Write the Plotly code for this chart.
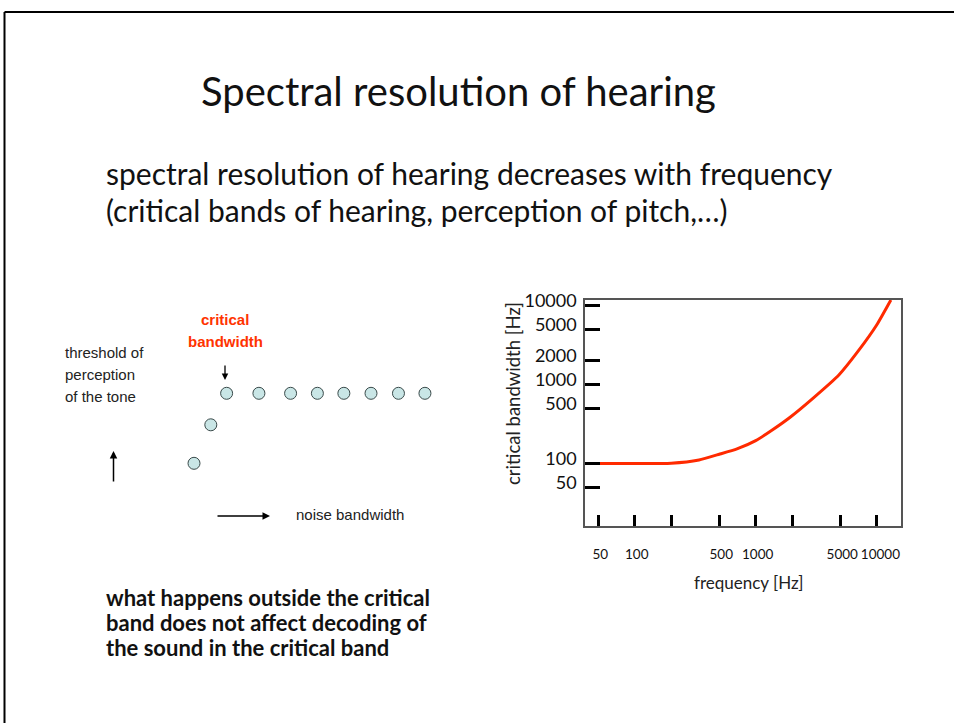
import plotly.graph_objects as go

# ---------------- data ----------------
# right chart: critical bandwidth vs. frequency
freq_hz = [39, 50, 100, 200, 340, 500, 700, 1000, 1370, 1950, 2970, 4870, 6970, 10000, 13100]
crit_bw_hz = [100, 100, 100, 101, 111, 131, 153, 195, 266, 392, 670, 1324, 2612, 5695, 11810]

x_tick_vals = [50, 100, 200, 500, 1000, 2000, 5000, 10000]
x_tick_text = ["50", "100", "", "500", "1000", "", "5000", "\u00a010000"]
y_tick_vals = [50, 100, 500, 1000, 2000, 5000, 10000]
y_tick_text = ["50", "100", "500", "1000", "2000", "5000", "10000"]

# left sketch: threshold of perception vs. noise bandwidth (arbitrary units)
noise_bw = [0, 0.52, 1.01, 2.01, 2.99, 3.82, 4.64, 5.48, 6.33, 7.15]
threshold = [0, 1.1, 2, 2, 2, 2, 2, 2, 2, 2]

W, H = 954, 723


def px(x):
    return x / W


def py(y):
    return 1 - y / H


FONT = "Lato"
SKETCH_FONT = "Liberation Sans, Arial"

fig = go.Figure()

fig.add_trace(go.Scatter(
    x=freq_hz, y=crit_bw_hz, mode="lines",
    line=dict(color="#ff2a00", width=3, shape="spline", smoothing=0.5),
    xaxis="x", yaxis="y", showlegend=False, hoverinfo="skip",
))

fig.add_trace(go.Scatter(
    x=noise_bw, y=threshold, mode="markers",
    marker=dict(size=12, color="#c9e6e6", line=dict(color="#3a4a4a", width=1)),
    xaxis="x2", yaxis="y2", showlegend=False, hoverinfo="skip",
))

fig.update_layout(
    width=W, height=H, autosize=False,
    margin=dict(l=0, r=0, t=0, b=0, pad=0, autoexpand=False),
    paper_bgcolor="white", plot_bgcolor="white",
    xaxis=dict(
        type="log", range=[1.589, 4.201], domain=[px(585), px(901)],
        showline=True, mirror=True, linecolor="#555555", linewidth=1.5,
        ticks="inside", ticklen=11, tickwidth=3, tickcolor="black",
        tickvals=x_tick_vals, ticktext=x_tick_text, tickangle=0,
        tickfont=dict(family=FONT, size=13.5, color="#111"),
        ticklabelstandoff=15, ticklabelshift=2,
        showgrid=False, zeroline=False, automargin=False,
        anchor="y",
    ),
    yaxis=dict(
        type="log", range=[1.208, 4.072], domain=[py(526), py(300)],
        showline=True, mirror=True, linecolor="#555555", linewidth=1.5,
        ticks="inside", ticklen=15, tickwidth=3, tickcolor="black",
        tickvals=y_tick_vals, ticktext=y_tick_text,
        tickfont=dict(family=FONT, size=18, color="#111"),
        ticklabelstandoff=3, ticklabelshift=-5,
        showgrid=False, zeroline=False, automargin=False,
        anchor="x",
    ),
    xaxis2=dict(domain=[px(150), px(450)], range=[-1.3622, 7.9257], visible=False, anchor="y2"),
    yaxis2=dict(domain=[py(480), py(370)], range=[-0.4771, 2.6657], visible=False, anchor="x2"),
)

ann = []
# title and body text
ann.append(dict(text="Spectral resolution of hearing", x=px(458), y=py(91), xanchor="center", yanchor="middle",
                font=dict(family=FONT, size=40, color="#111")))
ann.append(dict(text="spectral resolution of hearing decreases with frequency", x=px(104), y=py(173),
                xanchor="left", yanchor="middle", font=dict(family=FONT, size=30, color="#111")))
ann.append(dict(text="(critical bands of hearing, perception of pitch,\u2026)", x=px(104), y=py(210),
                xanchor="left", yanchor="middle", font=dict(family=FONT, size=30, color="#111")))
for i, line in enumerate(["what happens outside the critical",
                          "band does not affect decoding of",
                          "the sound in the critical band"]):
    ann.append(dict(text="<b>" + line + "</b>", x=px(104), y=py(597 + 25 * i), xanchor="left", yanchor="middle",
                    font=dict(family=FONT, size=22, color="#111")))

# axis titles of the right chart
ann.append(dict(text="critical bandwidth [Hz]", x=px(513), y=py(394), xanchor="center", yanchor="middle",
                textangle=-90, font=dict(family=FONT, size=18.5, color="#222")))
ann.append(dict(text="frequency [Hz]", x=px(749), y=py(582), xanchor="center", yanchor="middle",
                font=dict(family=FONT, size=17, color="#222")))

# left sketch labels
for i, line in enumerate(["threshold of", "perception", "of the tone"]):
    ann.append(dict(text=line, x=px(63), y=py(352 + 22 * i), xanchor="left", yanchor="middle",
                    font=dict(family=SKETCH_FONT, size=15, color="#222")))
ann.append(dict(text="<b>critical</b>", x=px(225), y=py(319), xanchor="center", yanchor="middle",
                font=dict(family=SKETCH_FONT, size=15, color="#ff3300")))
ann.append(dict(text="<b>bandwidth</b>", x=px(225), y=py(341), xanchor="center", yanchor="middle",
                font=dict(family=SKETCH_FONT, size=15, color="#ff3300")))
ann.append(dict(text="noise bandwidth", x=px(294), y=py(514), xanchor="left", yanchor="middle",
                font=dict(family=SKETCH_FONT, size=15, color="#222")))

# arrows
ann.append(dict(text="", x=px(225), y=py(380), ax=0, ay=-16, axref="pixel", ayref="pixel",
                showarrow=True, arrowhead=2, arrowsize=1, arrowwidth=1.3, arrowcolor="black"))
ann.append(dict(text="", x=px(113.5), y=py(451), ax=0, ay=32, axref="pixel", ayref="pixel",
                showarrow=True, arrowhead=2, arrowsize=1, arrowwidth=1.5, arrowcolor="black"))
ann.append(dict(text="", x=px(270), y=py(516), ax=-54, ay=0, axref="pixel", ayref="pixel",
                showarrow=True, arrowhead=2, arrowsize=1, arrowwidth=1.5, arrowcolor="black"))

for a in ann:
    a.setdefault("xref", "paper")
    a.setdefault("yref", "paper")
    a.setdefault("showarrow", False)
fig.update_layout(annotations=ann)

# slide frame
fig.update_layout(shapes=[
    dict(type="line", xref="paper", yref="paper", x0=px(4.5), x1=1.01, y0=py(12), y1=py(12),
         line=dict(color="black", width=2)),
    dict(type="line", xref="paper", yref="paper", x0=px(4.5), x1=px(4.5), y0=py(12), y1=-0.02,
         line=dict(color="black", width=2)),
])

fig.write_html(
    "out.html",
    config={"displayModeBar": False},
    post_script=(
        "document.body.style.margin='0';document.body.style.padding='0';"
        "document.documentElement.style.overflow='hidden';document.body.style.overflow='hidden';"
    ),
)
